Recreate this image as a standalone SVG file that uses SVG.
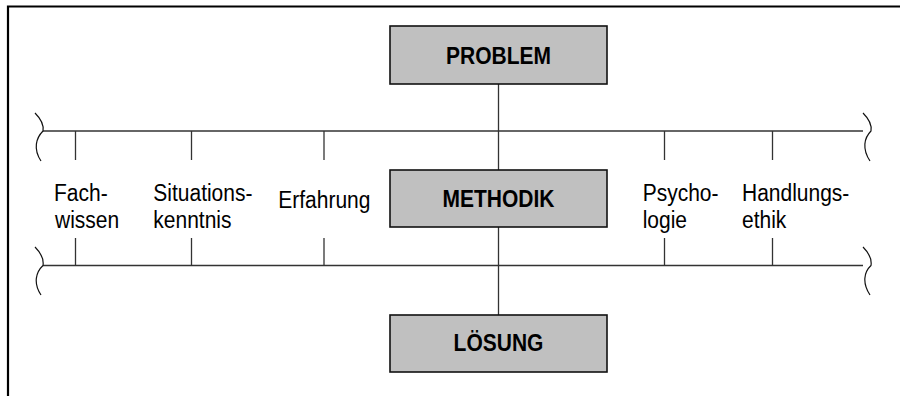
<svg xmlns="http://www.w3.org/2000/svg" width="900" height="396" viewBox="0 0 900 396">
<style>
.frame{fill:none;stroke:#000;stroke-width:2.2}
.ln{fill:none;stroke:#333;stroke-width:1.3}
.br{fill:none;stroke:#111;stroke-width:1.2}
.box{fill:#c0c0c0;stroke:#111;stroke-width:1.6}
.bt{font-family:"Liberation Sans",Arial,sans-serif;font-size:21px;font-weight:bold;fill:#000;text-anchor:middle}
.lt{font-family:"Liberation Sans",Arial,sans-serif;font-size:21px;fill:#000}
</style>
<rect x="0" y="0" width="900" height="396" fill="#fff"/>
<path class="frame" d="M8 396 V6.5 H900"/>
<g id="connectors">
<line class="ln" x1="43" y1="131" x2="863" y2="131"/>
<line class="ln" x1="43" y1="265.5" x2="863" y2="265.5"/>
<line class="ln" x1="498.5" y1="84" x2="498.5" y2="170"/>
<line class="ln" x1="498.5" y1="227" x2="498.5" y2="315"/>
<line class="ln" x1="75.5" y1="131" x2="75.5" y2="160"/>
<line class="ln" x1="191.5" y1="131" x2="191.5" y2="160"/>
<line class="ln" x1="324" y1="131" x2="324" y2="160"/>
<line class="ln" x1="664.5" y1="131" x2="664.5" y2="160"/>
<line class="ln" x1="772.5" y1="131" x2="772.5" y2="160"/>
<line class="ln" x1="75.5" y1="238" x2="75.5" y2="265.5"/>
<line class="ln" x1="191.5" y1="238" x2="191.5" y2="265.5"/>
<line class="ln" x1="324" y1="238" x2="324" y2="265.5"/>
<line class="ln" x1="664.5" y1="238" x2="664.5" y2="265.5"/>
<line class="ln" x1="772.5" y1="238" x2="772.5" y2="265.5"/>
<path class="br" d="M35 113 C41 119 44 125 43 131 C36 138 33 149 41 161"/>
<path class="br" d="M35 247 C41 253 44 259 43 265.5 C36 272 33 283 41 295"/>
<path class="br" d="M863 113 C869 119 872 125 871 131 C864 138 862 149 870 161"/>
<path class="br" d="M863 247 C869 253 872 259 871 265.5 C864 272 862 283 870 295"/>
</g>
<g id="problem">
<rect class="box" x="390" y="26" width="217" height="58"/>
<text class="bt" transform="translate(498.5,64.3) scale(1,1.13)">PROBLEM</text>
</g>
<g id="methodik">
<rect class="box" x="390" y="170" width="217" height="57"/>
<text class="bt" transform="translate(498.5,207.3) scale(1,1.13)">METHODIK</text>
</g>
<g id="loesung">
<rect class="box" x="390" y="315" width="217" height="57"/>
<text class="bt" transform="translate(498.5,351) scale(1,1.13)">LÖSUNG</text>
</g>
<g id="fachwissen">
<text class="lt" transform="translate(54,200.5) scale(1,1.13)">Fach-</text>
<text class="lt" transform="translate(55,228.3) scale(1,1.13)">wissen</text>
</g>
<g id="situationskenntnis">
<text class="lt" transform="translate(153.3,200.5) scale(1,1.13)">Situations-</text>
<text class="lt" transform="translate(153.3,228.3) scale(1,1.13)">kenntnis</text>
</g>
<g id="erfahrung">
<text class="lt" transform="translate(278.3,208.3) scale(1,1.13)">Erfahrung</text>
</g>
<g id="psychologie">
<text class="lt" transform="translate(642.7,200.5) scale(1,1.13)">Psycho-</text>
<text class="lt" transform="translate(642.7,228.3) scale(1,1.13)">logie</text>
</g>
<g id="handlungsethik">
<text class="lt" transform="translate(742,200.5) scale(1,1.13)">Handlungs-</text>
<text class="lt" transform="translate(742,228.3) scale(1,1.13)">ethik</text>
</g>
</svg>
